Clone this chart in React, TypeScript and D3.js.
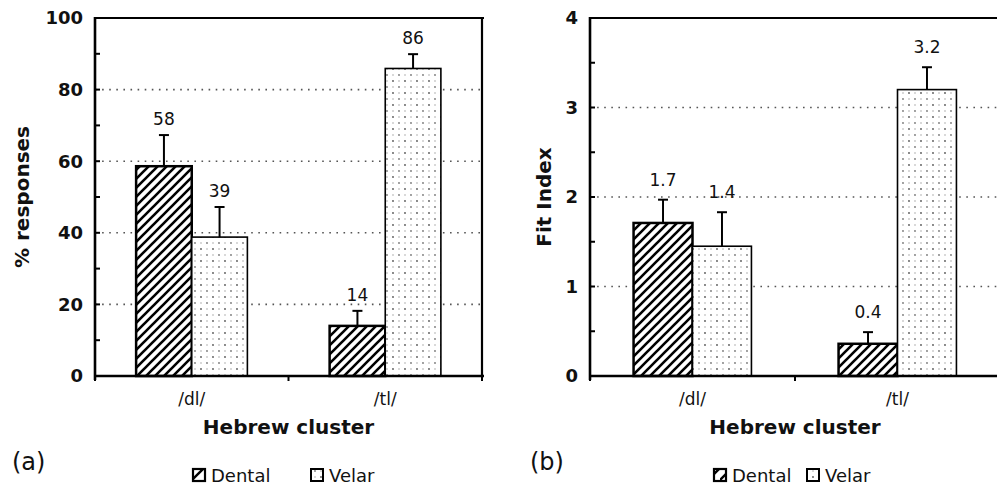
import React from "react";
import * as d3 from "d3";

const clusters = ["/dl/", "/tl/"];
const seriesNames = ["Dental", "Velar"];

const responsesDental = [58.6, 14.0];
const responsesVelar = [38.8, 85.9];
const responsesDentalErr = [8.7, 4.2];
const responsesVelarErr = [8.4, 4.0];
const responsesDentalLabels = ["58", "14"];
const responsesVelarLabels = ["39", "86"];
const responsesTicks = [0, 20, 40, 60, 80, 100];

const fitDental = [1.71, 0.36];
const fitVelar = [1.45, 3.2];
const fitDentalErr = [0.26, 0.13];
const fitVelarErr = [0.38, 0.25];
const fitDentalLabels = ["1.7", "0.4"];
const fitVelarLabels = ["1.4", "3.2"];
const fitTicks = [0, 1, 2, 3, 4];

const FONT = "'DejaVu Sans', Arial, sans-serif";

type PanelProps = {
  left: number;
  right: number;
  top: number;
  bottom: number;
  max: number;
  ticks: number[];
  minorStep: number;
  dental: number[];
  velar: number[];
  dentalErr: number[];
  velarErr: number[];
  dentalLabels: string[];
  velarLabels: string[];
  yTitle: string;
  yTitleX: number;
  labelGap: number;
  tag: string;
  tagX: number;
  legendX: number;
  legendGap: number;
  showRight: boolean;
};

function Panel(p: PanelProps) {
  const y = d3.scaleLinear().domain([0, p.max]).range([p.bottom, p.top]);
  const x0 = d3.scaleBand<string>().domain(clusters).range([p.left, p.right]).padding(0);
  const bw = x0.bandwidth();
  const frac = 0.575;
  const x1 = d3
    .scaleBand<string>()
    .domain(seriesNames)
    .range([(bw * (1 - frac)) / 2, (bw * (1 + frac)) / 2])
    .padding(0);
  const minor = d3.range(0, p.max + 1e-9, p.minorStep);
  const values = [p.dental, p.velar];
  const errs = [p.dentalErr, p.velarErr];
  const labels = [p.dentalLabels, p.velarLabels];
  const fills = ["url(#hatch)", "url(#dots)"];
  const strokes = [2.5, 1.6];
  const boundaries = [p.left, p.left + bw, p.left + 2 * bw];

  return (
    <g>
      {/* gridlines */}
      {p.ticks
        .filter((t) => t > 0 && t < p.max)
        .map((t) => (
          <line
            key={"g" + t}
            x1={p.left}
            x2={p.right}
            y1={y(t)}
            y2={y(t)}
            stroke="#555"
            strokeWidth={1.6}
            strokeDasharray="1.6,5.5"
          />
        ))}
      {/* bars */}
      {seriesNames.map((s, si) =>
        clusters.map((c, ci) => {
          const bx = (x0(c) as number) + (x1(s) as number);
          const w = x1.bandwidth();
          const v = values[si][ci];
          const top = y(v);
          const et = y(v + errs[si][ci]);
          const cx = bx + w / 2;
          return (
            <g key={s + c}>
              <rect x={bx} y={top} width={w} height={p.bottom - top} fill="white" />
              <rect
                x={bx}
                y={top}
                width={w}
                height={p.bottom - top}
                fill={fills[si]}
                stroke="#000"
                strokeWidth={strokes[si]}
              />
              <line x1={cx} x2={cx} y1={top} y2={et} stroke="#000" strokeWidth={2} />
              <line x1={cx - 5} x2={cx + 5} y1={et} y2={et} stroke="#000" strokeWidth={2} />
              <text
                x={cx}
                y={et - p.labelGap}
                textAnchor="middle"
                fontFamily={FONT}
                fontSize={17}
                fill="#111"
              >
                {labels[si][ci]}
              </text>
            </g>
          );
        })
      )}
      {/* frame */}
      <line x1={p.left} x2={p.right + 2} y1={p.top} y2={p.top} stroke="#000" strokeWidth={2.2} />
      {p.showRight && (
        <line x1={p.right} x2={p.right} y1={p.top} y2={p.bottom} stroke="#000" strokeWidth={2.2} />
      )}
      <line x1={p.left} x2={p.right + 2} y1={p.bottom} y2={p.bottom} stroke="#000" strokeWidth={2.6} />
      <line x1={p.left} x2={p.left} y1={p.top - 1} y2={p.bottom + 4} stroke="#000" strokeWidth={2.6} />
      {/* minor y ticks (inward) */}
      {minor.map((t) => (
        <line key={"m" + t} x1={p.left} x2={p.left + 5} y1={y(t)} y2={y(t)} stroke="#000" strokeWidth={2} />
      ))}
      {/* x boundary ticks */}
      {boundaries.map((bx, i) => (
        <line key={"b" + i} x1={bx} x2={bx} y1={p.bottom} y2={p.bottom + 5} stroke="#000" strokeWidth={2} />
      ))}
      {/* y tick labels */}
      {p.ticks.map((t) => (
        <text
          key={"t" + t}
          x={p.left - 12}
          y={y(t)}
          dy="0.36em"
          textAnchor="end"
          fontFamily={FONT}
          fontWeight="bold"
          fontSize={18}
          fill="#111"
        >
          {t}
        </text>
      ))}
      {/* category labels */}
      {clusters.map((c) => (
        <text
          key={"c" + c}
          x={(x0(c) as number) + bw / 2}
          y={405}
          textAnchor="middle"
          fontFamily={FONT}
          fontSize={17}
          fill="#111"
        >
          {c}
        </text>
      ))}
      <text
        x={p.left + bw}
        y={434}
        textAnchor="middle"
        fontFamily={FONT}
        fontWeight="bold"
        fontSize={20}
        fill="#111"
      >
        Hebrew cluster
      </text>
      <text
        transform={`translate(${p.yTitleX},${(p.top + p.bottom) / 2}) rotate(-90)`}
        textAnchor="middle"
        fontFamily={FONT}
        fontWeight="bold"
        fontSize={20}
        fill="#111"
      >
        {p.yTitle}
      </text>
      <text x={p.tagX} y={470} fontFamily={FONT} fontSize={24} fill="#111">
        {p.tag}
      </text>
      {/* legend */}
      <g>
        <rect x={p.legendX} y={468} width={14} height={14} fill="white" />
        <rect x={p.legendX + 1} y={469} width={12} height={12} fill="url(#hatchSmall)" stroke="#000" strokeWidth={2.2} />
        <text x={p.legendX + 19} y={482} fontFamily={FONT} fontSize={18} fill="#111">
          {seriesNames[0]}
        </text>
        <rect
          x={p.legendX + p.legendGap + 1}
          y={469}
          width={12}
          height={12}
          fill="url(#dots)"
          stroke="#000"
          strokeWidth={2}
        />
        <text x={p.legendX + p.legendGap + 19} y={482} fontFamily={FONT} fontSize={18} fill="#111">
          {seriesNames[1]}
        </text>
      </g>
    </g>
  );
}

export default function App() {
  return (
    <svg
      width={997}
      height={489}
      viewBox="0 0 997 489"
      style={{ position: "absolute", left: 0, top: 0, background: "white" }}
    >
      <defs>
        <pattern id="hatch" patternUnits="userSpaceOnUse" width={9} height={9}>
          <rect width={9} height={9} fill="white" />
          <path d="M-2,2 L2,-2 M0,9 L9,0 M7,11 L11,7" stroke="#000" strokeWidth={2.6} />
        </pattern>
        <pattern id="hatchSmall" patternUnits="userSpaceOnUse" width={12} height={12} x={0} y={0}>
          <rect width={12} height={12} fill="white" />
          <path d="M0,12 L12,0" stroke="#000" strokeWidth={2.4} />
        </pattern>
        <pattern id="dots" patternUnits="userSpaceOnUse" width={12} height={12}>
          <rect width={12} height={12} fill="white" />
          <circle cx={3} cy={3} r={0.9} fill="#777" />
          <circle cx={9} cy={3} r={0.8} fill="#aaa" />
          <circle cx={3} cy={9} r={0.8} fill="#aaa" />
          <circle cx={9} cy={9} r={0.9} fill="#555" />
        </pattern>
      </defs>
      <rect width={997} height={489} fill="white" />
      <Panel
        left={95}
        right={482}
        top={18}
        bottom={376}
        max={100}
        ticks={responsesTicks}
        minorStep={10}
        dental={responsesDental}
        velar={responsesVelar}
        dentalErr={responsesDentalErr}
        velarErr={responsesVelarErr}
        dentalLabels={responsesDentalLabels}
        velarLabels={responsesVelarLabels}
        yTitle="% responses"
        yTitleX={29}
        labelGap={10}
        tag="(a)"
        tagX={12}
        legendX={192}
        legendGap={118}
        showRight={true}
      />
      <Panel
        left={590}
        right={1000}
        top={18}
        bottom={376}
        max={4}
        ticks={fitTicks}
        minorStep={0.5}
        dental={fitDental}
        velar={fitVelar}
        dentalErr={fitDentalErr}
        velarErr={fitVelarErr}
        dentalLabels={fitDentalLabels}
        velarLabels={fitVelarLabels}
        yTitle="Fit Index"
        yTitleX={551}
        labelGap={14}
        tag="(b)"
        tagX={530}
        legendX={713}
        legendGap={93}
        showRight={false}
      />
    </svg>
  );
}
